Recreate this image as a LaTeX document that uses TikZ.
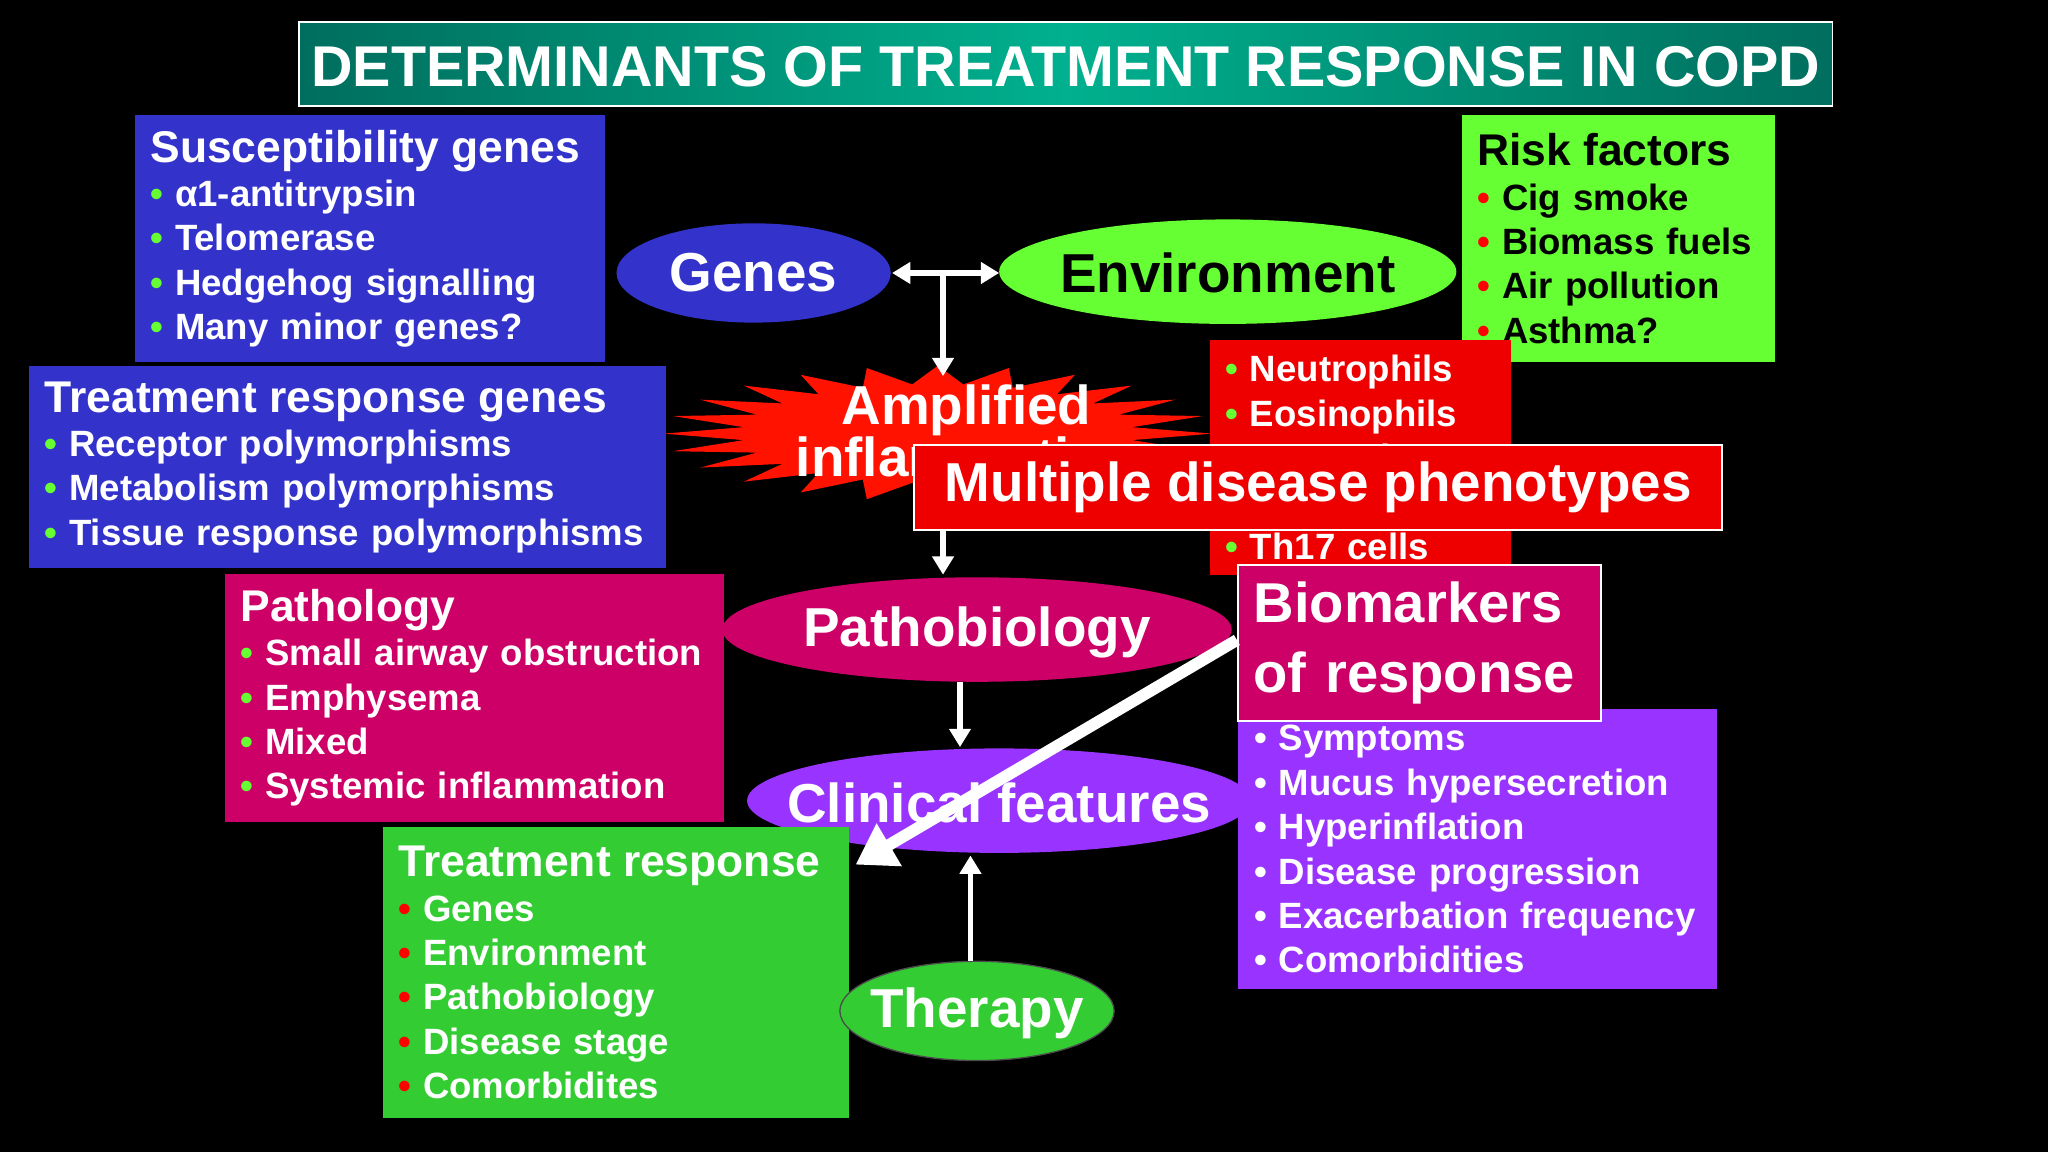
\documentclass[tikz,border=0pt]{standalone}
\usepackage{fontspec}
\setmainfont{Liberation Sans}
\usetikzlibrary{shapes.geometric,arrows.meta}
\definecolor{cblue}{HTML}{3333CC}
\definecolor{cgreen}{HTML}{66FF33}
\definecolor{cgreen2}{HTML}{33CC33}
\definecolor{cmag}{HTML}{CC0066}
\definecolor{cpurp}{HTML}{9933FF}
\definecolor{cred}{HTML}{EE0000}
\definecolor{tealA}{HTML}{006E5E}
\definecolor{tealB}{HTML}{00B08E}
\newcommand{\bl}[2]{\textcolor{#1}{•}\hspace{9pt}#2}
\tikzset{
 box/.style={anchor=north west,inner xsep=12pt,inner ysep=4pt,align=left,font=\bfseries\fontsize{28}{34}\selectfont},
 hd/.style={},
 etext/.style={font=\bfseries\fontsize{42}{46}\selectfont},
 arr/.style={draw=white,line width=4pt,-{Triangle[length=14pt,width=16pt]}},
}
\newcommand{\hdr}[1]{{\fontsize{34}{40}\selectfont #1}}
\begin{document}
\begin{tikzpicture}[x=1pt,y=-1pt]
\fill[black] (0,0) rectangle (1568,882);
\useasboundingbox (0,0) rectangle (1568,882);
% title
\shade[left color=tealA,right color=tealA,middle color=tealB,draw=white,line width=1.5pt] (229,17) rectangle (1403,81);
\node[text=white,font=\bfseries\fontsize{44}{48}\selectfont] (title) at (816,51) {DETERMINANTS OF TREATMENT RESPONSE IN COPD};
% susceptibility
\node[box,fill=cblue,text=white,minimum width=360pt,minimum height=189pt,text width=336pt] (sus) at (103,88)
 {\hdr{Susceptibility genes}\\
 \bl{cgreen}{α1-antitrypsin}\\ \bl{cgreen}{Telomerase}\\ \bl{cgreen}{Hedgehog signalling}\\ \bl{cgreen}{Many minor genes?}};
% risk factors
\node[box,fill=cgreen,text=black,minimum width=240pt,minimum height=189pt,text width=216pt] (risk) at (1119,88)
 {\hdr{Risk factors}\\
 \bl{red}{Cig smoke}\\ \bl{red}{Biomass fuels}\\ \bl{red}{Air pollution}\\ \bl{red}{Asthma?}};
% ellipses top
\fill[cblue] (577,209) ellipse [x radius=105, y radius=38];
\node[etext,text=white] (genes) at (577,209) {Genes};
\fill[cgreen] (940,208) ellipse [x radius=175, y radius=40];
\node[etext,text=black] (env) at (940,209) {Environment};
\coordinate (gE) at (683,209);
\coordinate (eW) at (765,209);
\coordinate (mid) at (722,209);
\draw[white,line width=4pt,{Triangle[length=14pt,width=16pt]}-{Triangle[length=14pt,width=16pt]}] (gE) -- (eW);
% red cell box
\node[box,fill=cred,text=white,minimum width=231pt,minimum height=180pt,text width=207pt,inner ysep=6pt] (cells) at (926,260)
 {\bl{cgreen}{Neutrophils}\\ \bl{cgreen}{Eosinophils}\\ \bl{cgreen}{Macrophages}\\ \bl{cgreen}{CD8+ cells}\\ \bl{cgreen}{Th17 cells}};
% starburst
\fill[red!85!orange] plot[samples=49,domain=0:360,variable=\t] ({718+(mod(round(\t/7.5),2)==0 ? 210 : 150)*cos(\t)},{332+(mod(round(\t/7.5),2)==0 ? 52 : 38)*sin(\t)}) -- cycle;
\node[text=white,align=center,font=\bfseries\fontsize{42}{38}\selectfont] (amp) at (740,330) {Amplified\\inflammation};
\coordinate (ampN) at (722,288);
\draw[arr] (mid) -- (ampN);
% treatment response genes
\node[box,fill=cblue,text=white,minimum width=488pt,minimum height=155pt,text width=464pt] (trg) at (22,280)
 {\hdr{Treatment response genes}\\
 \bl{cgreen}{Receptor polymorphisms}\\ \bl{cgreen}{Metabolism polymorphisms}\\ \bl{cgreen}{Tissue response polymorphisms}};
% multiple disease phenotypes
\node[anchor=north west,fill=cred,draw=white,line width=1.5pt,minimum width=619pt,minimum height=65pt,text=white,font=\bfseries\fontsize{42}{44}\selectfont] (mdp) at (699,340) {Multiple disease phenotypes};
% pathology
\node[box,fill=cmag,text=white,minimum width=382pt,minimum height=190pt,text width=358pt] (path) at (172,439)
 {\hdr{Pathology}\\
 \bl{cgreen}{Small airway obstruction}\\ \bl{cgreen}{Emphysema}\\ \bl{cgreen}{Mixed}\\ \bl{cgreen}{Systemic inflammation}};
\fill[cmag] (748,482) ellipse [x radius=195, y radius=40];
\node[etext,text=white] (pathob) at (748,484) {Pathobiology};
\coordinate (mdpS) at (722,406);
\coordinate (pathN) at (722,440);
\draw[arr] (mdpS) -- (pathN);
% purple box
\node[box,fill=cpurp,text=white,minimum width=366pt,minimum height=214pt,text width=342pt,inner ysep=6pt] (purp) at (948,543)
 {\bl{white}{Symptoms}\\ \bl{white}{Mucus hypersecretion}\\ \bl{white}{Hyperinflation}\\ \bl{white}{Disease progression}\\ \bl{white}{Exacerbation frequency}\\ \bl{white}{Comorbidities}};
\node[anchor=north west,fill=cmag,draw=white,line width=1.5pt,minimum width=278pt,minimum height=119pt,text width=254pt,inner xsep=12pt,align=left,text=white,font=\bfseries\fontsize{43}{53}\selectfont] (bio) at (947,432) {Biomarkers\\of response};
% clinical
\fill[cpurp] (765,613) ellipse [x radius=193, y radius=40];
\node[etext,text=white] (clin) at (765,615) {Clinical features};
\coordinate (pbS) at (735,522);
\coordinate (clN) at (735,572);
\draw[arr] (pbS) -- (clN);
% treatment response
\node[box,fill=cgreen2,text=white,minimum width=357pt,minimum height=223pt,text width=333pt] (tr) at (293,633)
 {\hdr{Treatment response}\\
 \bl{red}{Genes}\\ \bl{red}{Environment}\\ \bl{red}{Pathobiology}\\ \bl{red}{Disease stage}\\ \bl{red}{Comorbidites}};
% therapy
\filldraw[fill=cgreen2,draw=black!70,line width=1pt] (748,774) ellipse [x radius=105, y radius=38];
\node[etext,text=white] (ther) at (748,776) {Therapy};
\coordinate (thN) at (743,736);
\coordinate (clS) at (743,655);
\draw[arr] (thN) -- (clS);
% big arrow
\coordinate (bioW) at (947,490);
\coordinate (trNE) at (655,662);
\draw[white,line width=9pt,-{Triangle[length=30pt,width=36pt]}] (bioW) -- (trNE);
\end{tikzpicture}
\end{document}
